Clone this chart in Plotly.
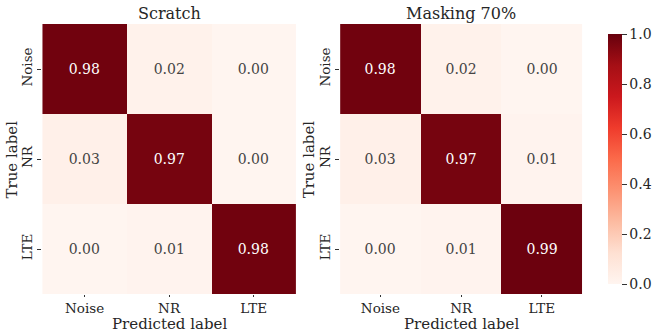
import plotly.graph_objects as go

# Class names (rows = true label, columns = predicted label)
classes = ["Noise", "NR", "LTE"]

# Normalised confusion matrices
scratch = [
    [0.98, 0.02, 0.00],
    [0.03, 0.97, 0.00],
    [0.00, 0.01, 0.98],
]
masking70 = [
    [0.98, 0.02, 0.00],
    [0.03, 0.97, 0.01],
    [0.00, 0.01, 0.99],
]
titles = ["Scratch", "Masking 70%"]
colorbar_ticks = [0.0, 0.2, 0.4, 0.6, 0.8, 1.0]

FONT = "DejaVu Serif"
TXT = "#262626"
W, H = 662, 332

# Panel geometry in pixels
x_domains = [(44, 308), (354, 606)]
y_title_x = [13, 322]
y_top, y_bottom = 24, 294


def px_x(v):
    return v / W


def px_y(v):
    return 1 - v / H


fig = go.Figure()

for i, (z, title) in enumerate(zip([scratch, masking70], titles)):
    xa = "x" if i == 0 else "x2"
    ya = "y" if i == 0 else "y2"
    trace = go.Heatmap(
        z=z,
        x=classes,
        y=classes,
        zmin=0,
        zmax=1,
        colorscale="Reds",
        texttemplate="%{z:.2f}",
        textfont=dict(family=FONT, size=14),
        hoverinfo="skip",
        xaxis=xa,
        yaxis=ya,
        showscale=(i == 1),
    )
    if i == 1:
        trace.colorbar = dict(
            x=px_x(622),
            xanchor="left",
            y=px_y(y_bottom),
            yanchor="bottom",
            len=(y_bottom - y_top) / H,
            lenmode="fraction",
            thickness=14,
            outlinewidth=0,
            tickvals=colorbar_ticks,
            ticktext=[f"{t:.1f}" for t in colorbar_ticks],
            ticks="outside",
            ticklen=5,
            tickcolor="#333",
            tickfont=dict(family=FONT, size=14, color=TXT),
        )
    fig.add_trace(trace)

axis_common = dict(
    showgrid=False,
    zeroline=False,
    showline=False,
    ticks="outside",
    tickcolor="#333",
    tickfont=dict(family=FONT, size=13.5, color=TXT),
    automargin=False,
)


def label(text, x, y, size, angle=0, yanchor="middle"):
    fig.add_annotation(
        text=text, x=px_x(x), y=px_y(y), xref="paper", yref="paper",
        xanchor="center", yanchor=yanchor, textangle=angle, showarrow=False,
        font=dict(family=FONT, size=size, color=TXT),
    )


for i, (x0, x1) in enumerate(x_domains):
    sfx = "" if i == 0 else "2"
    fig.layout["xaxis" + sfx] = dict(
        axis_common,
        ticklen=2,
        domain=[px_x(x0), px_x(x1)],
        anchor="y" + sfx,
    )
    fig.layout["yaxis" + sfx] = dict(
        axis_common,
        ticklen=4,
        domain=[px_y(y_bottom), px_y(y_top)],
        anchor="x" + sfx,
        autorange="reversed",
        tickangle=-90,
    )
    cx = (x0 + x1) / 2
    label(titles[i], cx, 14, 16)
    label("Predicted label", cx, 323.5, 15)
    label("True label", y_title_x[i], (y_top + y_bottom) / 2, 15, angle=-90)

fig.update_layout(
    width=W,
    height=H,
    margin=dict(l=0, r=0, t=0, b=0),
    paper_bgcolor="white",
    plot_bgcolor="white",
    font=dict(family=FONT, color=TXT),
)

fig.write_html("out.html")
